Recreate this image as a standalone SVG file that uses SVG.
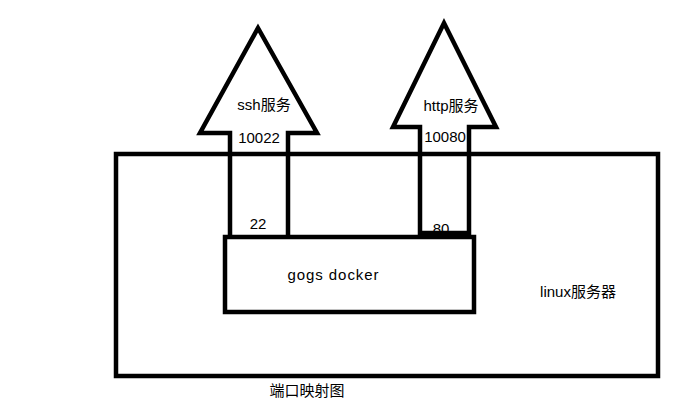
<svg xmlns="http://www.w3.org/2000/svg" width="696" height="416" viewBox="0 0 696 416">
<style>
.ln{fill:none;stroke:#000;stroke-width:4.5;stroke-linejoin:miter;stroke-miterlimit:10}
.t{font-family:"Liberation Sans","Noto Sans CJK SC",sans-serif;font-size:15px;fill:#000;text-anchor:middle}
</style>
<rect width="696" height="416" fill="#fff"/>
<g id="labels-under">
<text class="t" x="441" y="234">80</text>
</g>
<g id="linux-server">
<rect class="ln" x="116" y="154" width="542" height="222"/>
<text class="t" x="578" y="297">linux服务器</text>
</g>
<g id="gogs-docker">
<rect class="ln" x="225" y="237" width="249" height="75"/>
<text class="t" x="333" y="280" font-size="16" textLength="91" lengthAdjust="spacing">gogs docker</text>
</g>
<g id="connectors">
<polyline id="ssh-arrow" class="ln" points="230,237 230,133 200,133 258,28 317,133 288,133 288,237"/>
<polygon id="http-arrow" class="ln" points="420,233 420,127 393,127 444,23 496,127 469,127 469,233"/>
</g>
<g id="ssh-service">
<text class="t" x="264" y="110">ssh服务</text>
<text class="t" x="259" y="143">10022</text>
<text class="t" x="258" y="229">22</text>
</g>
<g id="http-service">
<text class="t" x="451" y="111">http服务</text>
<text class="t" x="445" y="142">10080</text>
</g>
<g id="caption">
<text class="t" x="307" y="396" font-size="13">端口映射图</text>
</g>
</svg>
